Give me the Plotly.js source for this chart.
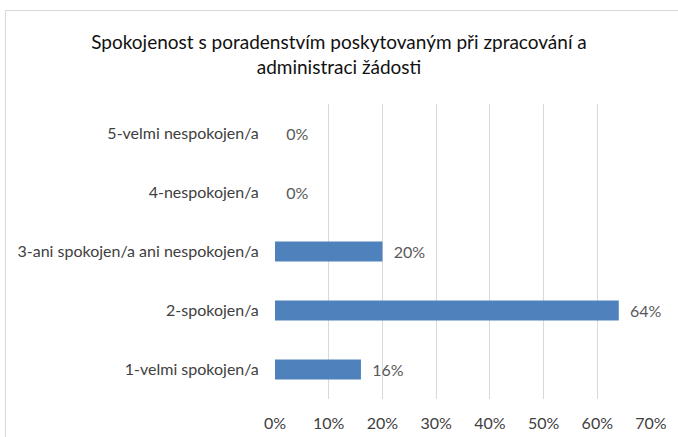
<!DOCTYPE html>
<html><head><meta charset="utf-8">
<script src="https://cdn.plot.ly/plotly-3.0.1.min.js"></script>
<style>
html,body{margin:0;padding:0;background:#fff;}
#wrap{position:relative;width:678px;height:437px;}
#chart{width:678px;height:437px;}
#frame{position:absolute;left:5px;top:10px;width:700px;height:440px;border-top:1px solid #d9d9d9;border-left:1px solid #d9d9d9;pointer-events:none;}
</style></head>
<body>
<div id="wrap"><div id="chart"></div><div id="frame"></div></div>
<script>
const categories = ["1-velmi spokojen/a", "2-spokojen/a", "3-ani spokojen/a ani nespokojen/a", "4-nespokojen/a", "5-velmi nespokojen/a"];
const values = [16, 64, 20, 0, 0];
const xTickVals = [0, 10, 20, 30, 40, 50, 60, 70];
const xTickText = ["0%", "10%", "20%", "30%", "40%", "50%", "60%", "70%"];
const titleText = "Spokojenost s poradenstvím poskytovaným při zpracování a<br>administraci žádosti";

const FONT = "Lato, sans-serif";

Plotly.newPlot('chart', [{
  type: 'bar',
  orientation: 'h',
  y: categories,
  x: values,
  width: 0.34,
  marker: {color: '#4f81bd', line: {width: 0}},
  text: values.map(v => '\u00a0\u00a0' + v + '%'),
  textposition: 'outside',
  cliponaxis: false,
  textfont: {family: FONT, size: 16, color: '#595959'},
  hoverinfo: 'none'
}], {
  width: 678, height: 437,
  margin: {l: 275, r: 27, t: 104, b: 38},
  paper_bgcolor: '#fff', plot_bgcolor: '#fff',
  font: {family: FONT},
  title: {text: titleText, font: {family: FONT, size: 19, color: '#111'}, x: 0.5, xanchor: 'center', xref: 'container', y: 0.888, yanchor: 'top', yref: 'container'},
  xaxis: {range: [0, 70], tickvals: xTickVals, ticktext: xTickText, showgrid: true, gridcolor: '#d9d9d9', gridwidth: 1, zeroline: false, showline: false, ticks: 'outside', ticklen: 10, tickcolor: 'rgba(0,0,0,0)', tickfont: {family: FONT, size: 16, color: '#404040'}, fixedrange: true},
  yaxis: {type: 'category', categoryorder: 'array', categoryarray: categories, showgrid: false, zeroline: false, showline: false, ticks: 'outside', ticklen: 12, tickcolor: 'rgba(0,0,0,0)', tickfont: {family: FONT, size: 16, color: '#404040'}, fixedrange: true},
  showlegend: false,
  bargap: 0.66
}, {displayModeBar: false, staticPlot: true});
</script>
</body></html>
